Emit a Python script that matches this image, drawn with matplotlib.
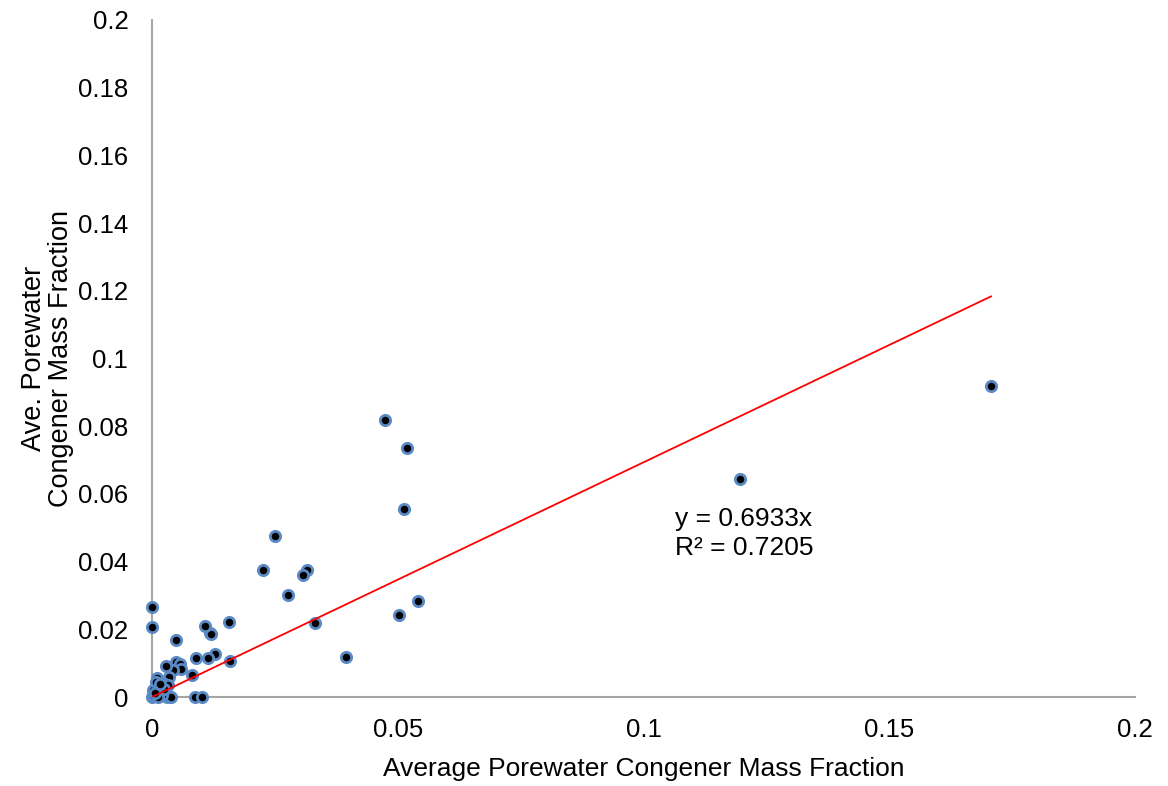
import numpy as np
import matplotlib.pyplot as plt

plt.rcParams['font.family'] = ['Liberation Sans', 'DejaVu Sans']

# average porewater congener mass fraction (x) vs ave. porewater (y)
x_vals = [
    0.1707, 0.1196, 0.0474, 0.0519, 0.0513, 0.0541, 0.0503, 0.0395,
    0.0332, 0.0315, 0.0307, 0.0277, 0.0250, 0.0226, 0.0157, 0.0159,
    0.0129, 0.0118, 0.0120, 0.0108, 0.0115, 0.0089, 0.0081, 0.0048,
    0.0048, 0.0057, 0.0059, 0.0042, 0.0028, 0.0034, 0.0011, 0.0023,
    0.0033, 0.0087, 0.0101, 0.0030, 0.0038, 0.0001, 0.0000,
    0.0005, 0.0010, 0.0003, 0.0015, 0.0020, 0.0008, 0.0020, 0.0000,
    0.0003, 0.0012, 0.0025, 0.0006, 0.0017,
]
y_vals = [
    0.0919, 0.0644, 0.0818, 0.0736, 0.0555, 0.0284, 0.0242, 0.0118,
    0.0219, 0.0375, 0.0360, 0.0301, 0.0476, 0.0375, 0.0222, 0.0105,
    0.0128, 0.0188, 0.0185, 0.0211, 0.0115, 0.0115, 0.0066, 0.0167,
    0.0103, 0.0098, 0.0082, 0.0080, 0.0092, 0.0060, 0.0056, 0.0042,
    0.0035, 0.0000, 0.0000, 0.0000, 0.0000, 0.0266, 0.0207,
    0.0002, 0.0010, 0.0020, 0.0030, 0.0015, 0.0045, 0.0005, 0.0000,
    0.0005, 0.0000, 0.0025, 0.0012, 0.0038,
]

slope = 0.6933
r2 = 0.7205

x_tick_vals = [0, 0.05, 0.1, 0.15, 0.2]
x_tick_labels = ["0", "0.05", "0.1", "0.15", "0.2"]
y_tick_vals = [0, 0.02, 0.04, 0.06, 0.08, 0.1, 0.12, 0.14, 0.16, 0.18, 0.2]
y_tick_labels = ["0", "0.02", "0.04", "0.06", "0.08", "0.1", "0.12",
                 "0.14", "0.16", "0.18", "0.2"]

fig = plt.figure(figsize=(11.68, 7.86), dpi=100)
ax = fig.add_axes([0.1301, 0.1132, 0.8417, 0.8614])

ax.scatter(x_vals, y_vals, s=55, c="black", edgecolors="#5A8AC6",
           linewidths=2.0, zorder=3, clip_on=False)

fit_x = np.array([0.0, max(x_vals)])
ax.plot(fit_x, slope * fit_x, color="#FF0000", linewidth=1.3, zorder=4)

ax.text(0.1064, 0.0560, f"y = {slope}x\nR² = {r2}", fontsize=19,
        va="top", ha="left", linespacing=1.25)

ax.set_xlim(0, 0.2)
ax.set_ylim(0, 0.2)
ax.set_xticks(x_tick_vals)
ax.set_xticklabels(x_tick_labels)
ax.set_yticks(y_tick_vals)
ax.set_yticklabels(y_tick_labels)
ax.tick_params(axis="both", length=0, labelsize=18.5)
ax.tick_params(axis="y", pad=17)
ax.tick_params(axis="x", pad=15)

for side in ("top", "right"):
    ax.spines[side].set_visible(False)
for side in ("left", "bottom"):
    ax.spines[side].set_color("#A6A6A6")
    ax.spines[side].set_linewidth(1.5)

ax.set_xlabel("Average Porewater Congener Mass Fraction", fontsize=19,
              labelpad=11)
ax.set_ylabel("Ave. Porewater\nCongener Mass Fraction", fontsize=19.5,
              labelpad=3, linespacing=1.05)

fig.savefig("out.png", dpi=100)
